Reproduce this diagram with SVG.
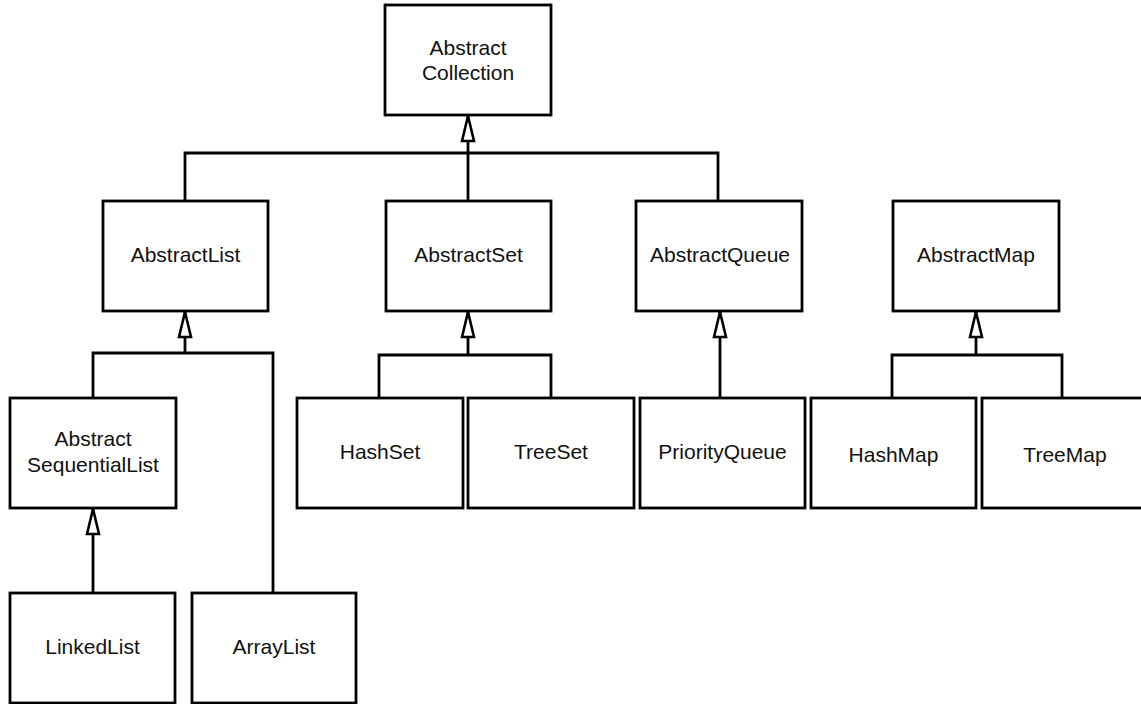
<svg xmlns="http://www.w3.org/2000/svg" width="1141" height="704" viewBox="0 0 1141 704">
  <style>
    .box { fill: #ffffff; stroke: #000000; stroke-width: 2.8; }
    .label { font-family: "Liberation Sans", Arial, Helvetica, sans-serif; font-size: 21px; fill: #111111; text-anchor: middle; }
    .wire { fill: none; stroke: #000000; stroke-width: 2.8; }
  </style>
  <defs>
    <!-- hollow triangle for generalization (inheritance) -->
    <marker id="inherit" viewBox="-2 -2 30 18" refX="25" refY="7" markerWidth="30" markerHeight="18" markerUnits="userSpaceOnUse" orient="auto" overflow="visible">
      <path d="M0,1 L25,7 L0,13 Z" fill="#ffffff" stroke="#000000" stroke-width="2.6" stroke-linejoin="miter"/>
    </marker>
  </defs>
  <rect width="1141" height="704" fill="#ffffff"/>

  <g id="connectors">
    <!-- Collection family -->
    <path class="wire" d="M185,201 V153 H718 V201"/>
    <path class="wire" d="M468,201 V153"/>
    <path class="wire" d="M468,153 V116" marker-end="url(#inherit)"/>
    <!-- AbstractList children -->
    <path class="wire" d="M93,398 V353 H273 V593"/>
    <path class="wire" d="M185,353 V312" marker-end="url(#inherit)"/>
    <!-- AbstractSequentialList child -->
    <path class="wire" d="M93,593 V509" marker-end="url(#inherit)"/>
    <!-- AbstractSet children -->
    <path class="wire" d="M379,398 V355 H551 V398"/>
    <path class="wire" d="M468,355 V312" marker-end="url(#inherit)"/>
    <!-- AbstractQueue child -->
    <path class="wire" d="M720,398 V312" marker-end="url(#inherit)"/>
    <!-- AbstractMap children -->
    <path class="wire" d="M892,398 V355 H1062 V398"/>
    <path class="wire" d="M976,355 V312" marker-end="url(#inherit)"/>
  </g>

  <g id="abstract-collection">
    <rect class="box" x="385" y="5" width="166" height="110"/>
    <text class="label" x="468" y="55">Abstract</text>
    <text class="label" x="468" y="80">Collection</text>
  </g>

  <g id="abstract-list">
    <rect class="box" x="103" y="201" width="165" height="110"/>
    <text class="label" x="185.5" y="262">AbstractList</text>
  </g>

  <g id="abstract-set">
    <rect class="box" x="386" y="201" width="165" height="110"/>
    <text class="label" x="468.5" y="262">AbstractSet</text>
  </g>

  <g id="abstract-queue">
    <rect class="box" x="636" y="201" width="166" height="110"/>
    <text class="label" x="720" y="262">AbstractQueue</text>
  </g>

  <g id="abstract-map">
    <rect class="box" x="893" y="201" width="166" height="110"/>
    <text class="label" x="976" y="262">AbstractMap</text>
  </g>

  <g id="abstract-sequential-list">
    <rect class="box" x="10" y="398" width="166" height="110"/>
    <text class="label" x="93" y="446">Abstract</text>
    <text class="label" x="93" y="472">SequentialList</text>
  </g>

  <g id="hash-set">
    <rect class="box" x="297" y="398" width="166" height="110"/>
    <text class="label" x="380" y="459">HashSet</text>
  </g>

  <g id="tree-set">
    <rect class="box" x="468" y="398" width="166" height="110"/>
    <text class="label" x="551" y="459">TreeSet</text>
  </g>

  <g id="priority-queue">
    <rect class="box" x="640" y="398" width="165" height="110"/>
    <text class="label" x="722.5" y="459">PriorityQueue</text>
  </g>

  <g id="hash-map">
    <rect class="box" x="811" y="398" width="165" height="110"/>
    <text class="label" x="893.5" y="462">HashMap</text>
  </g>

  <g id="tree-map">
    <rect class="box" x="982" y="398" width="166" height="110"/>
    <text class="label" x="1065" y="462">TreeMap</text>
  </g>

  <g id="linked-list">
    <rect class="box" x="10" y="593" width="165" height="110"/>
    <text class="label" x="92.5" y="654">LinkedList</text>
  </g>

  <g id="array-list">
    <rect class="box" x="192" y="593" width="164" height="110"/>
    <text class="label" x="274" y="654">ArrayList</text>
  </g>
</svg>
